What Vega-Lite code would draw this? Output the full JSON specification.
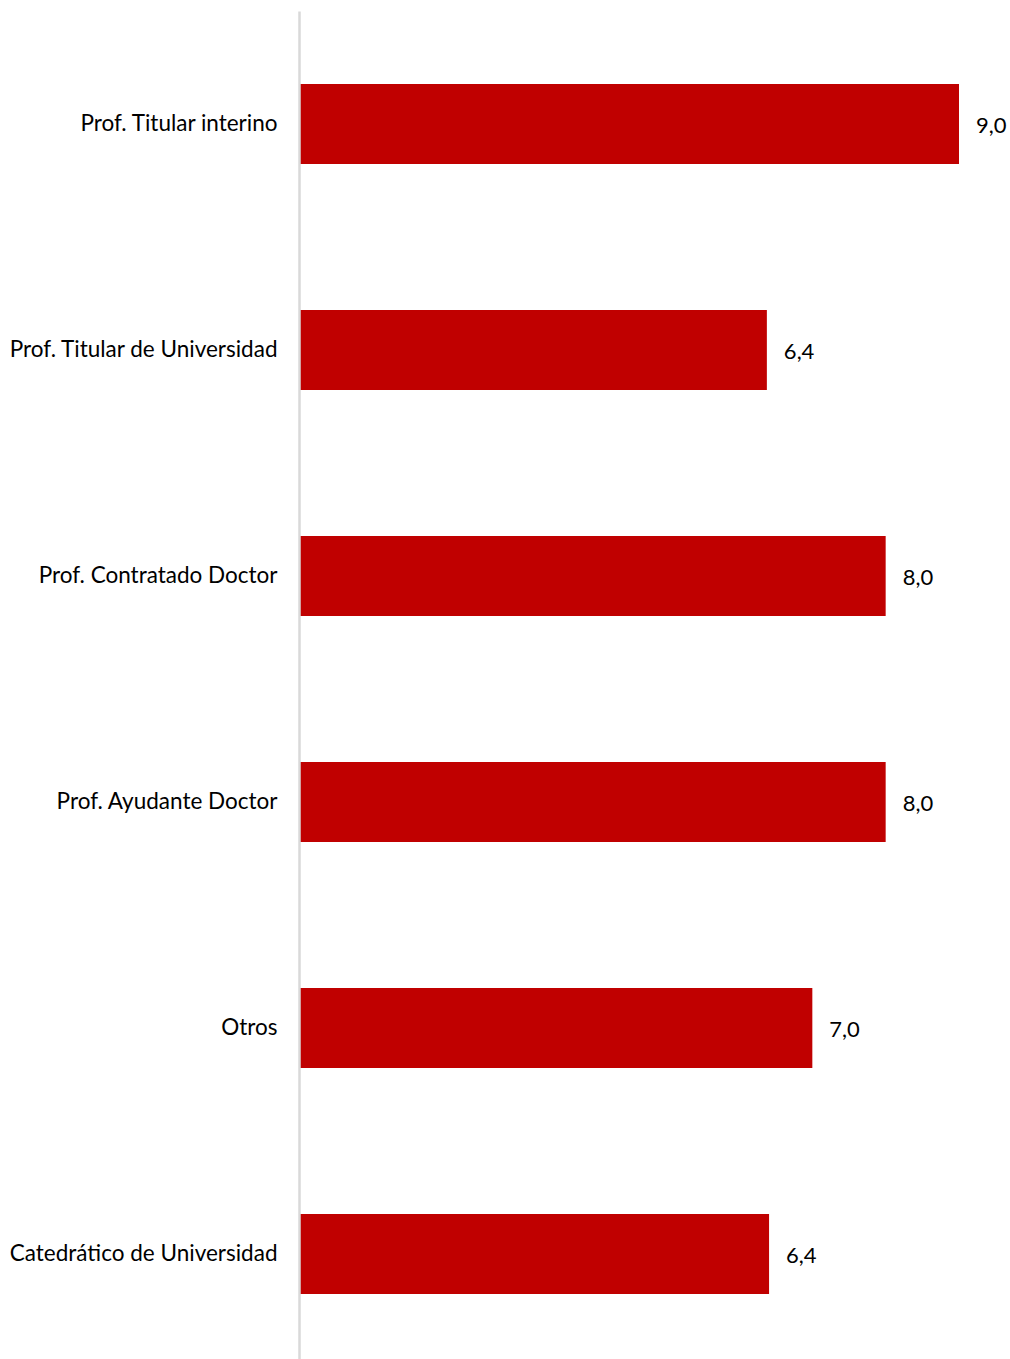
{
  "$schema": "https://vega.github.io/schema/vega-lite/v6.json",
  "autosize": {"type": "none"},
  "padding": {"left": 299, "top": 11, "right": 7, "bottom": 0},
  "width": 704,
  "height": 1356,
  "background": "white",
  "config": {
    "view": {"stroke": null},
    "locale": {"number": {"decimal": ",", "thousands": ".", "grouping": [3], "currency": ["", " €"]}},
    "font": "Lato"
  },
  "data": {
    "values": [
      {"categoria": "Prof. Titular interino", "valor": 9.0},
      {"categoria": "Prof. Titular de Universidad", "valor": 6.38},
      {"categoria": "Prof. Contratado Doctor", "valor": 8.0},
      {"categoria": "Prof. Ayudante Doctor", "valor": 8.0},
      {"categoria": "Otros", "valor": 7.0},
      {"categoria": "Catedrático de Universidad", "valor": 6.41}
    ]
  },
  "encoding": {
    "y": {
      "field": "categoria",
      "type": "nominal",
      "sort": null,
      "scale": {"paddingInner": 0.646, "paddingOuter": 0.323},
      "axis": {
        "title": null,
        "ticks": false,
        "domainColor": "#d9d9d9",
        "domainWidth": 2.5,
        "labelFontSize": 22.5,
        "labelColor": "#000000",
        "labelPadding": 22,
        "labelFont": "Lato",
        "labelLimit": 400,
        "zindex": 1
      }
    },
    "x": {
      "field": "valor",
      "type": "quantitative",
      "scale": {"domain": [0, 9.6], "nice": false, "zero": true},
      "axis": null
    }
  },
  "layer": [
    {"mark": {"type": "bar", "color": "#c00000"}},
    {
      "mark": {"type": "text", "align": "left", "baseline": "middle", "dx": 17, "dy": 2, "fontSize": 22, "color": "#000000", "font": "Lato"},
      "encoding": {"text": {"field": "valor", "type": "quantitative", "format": ".1f"}}
    }
  ]
}
